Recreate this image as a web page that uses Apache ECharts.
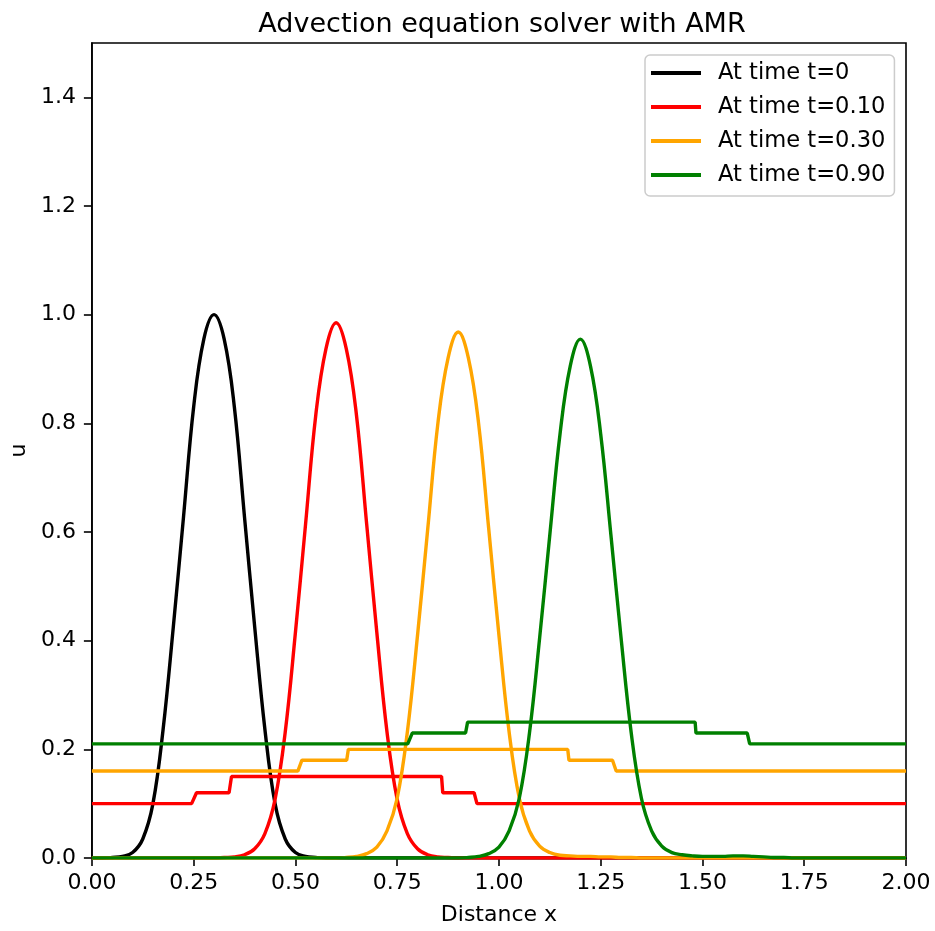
<!DOCTYPE html>
<html>
<head>
<meta charset="utf-8">
<script src="https://cdn.jsdelivr.net/npm/echarts@6/dist/echarts.min.js"></script>
<style>
html,body{margin:0;padding:0;background:#fff;}
#chart{width:935px;height:931px;}
</style>
</head>
<body>
<div id="chart"></div>
<script>
// ---- data ----
const seriesNames = ['At time t=0', 'At time t=0.10', 'At time t=0.30', 'At time t=0.90'];
const xGrid = [
0,0.025,0.05,0.075,0.1,0.125,0.15,0.175,0.2,0.225,
0.25,0.275,0.3,0.325,0.35,0.375,0.4,0.425,0.45,0.475,
0.5,0.525,0.55,0.575,0.6,0.625,0.65,0.675,0.7,0.725,
0.75,0.775,0.8,0.825,0.85,0.875,0.9,0.925,0.95,0.975,
1.0,1.025,1.05,1.075,1.1,1.125,1.15,1.175,1.2,1.225,
1.25,1.275,1.3,1.325,1.35,1.375,1.4,1.425,1.45,1.475,
1.5,1.525,1.55,1.575,1.6,1.625,1.65,1.675,1.7,1.725,
1.75,1.775,1.8,1.825,1.85,1.875,1.9,1.925,1.95,1.975,
2.0];
const uBlack = [
0,0,0.001,0.003,0.01,0.035,0.10,0.237,0.425,0.627,
0.83,0.955,1.0,0.955,0.83,0.627,0.425,0.237,0.10,0.035,
0.01,0.003,0.001,0,0,0,0,0,0,0,
0,0,0,0,0,0,0,0,0,0,
0,0,0,0,0,0,0,0,0,0,
0,0,0,0,0,0,0,0,0,0,
0,0,0,0,0,0,0,0,0,0,
0,0,0,0,0,0,0,0,0,0,
0];
const uRed = [
0,0,0,0,0,0,0,0,0,0,
0,0,0,0.001,0.002,0.006,0.017,0.045,0.108,0.232,
0.415,0.615,0.815,0.937,0.985,0.937,0.815,0.615,0.415,0.232,
0.108,0.045,0.017,0.006,0.002,0.001,0,0,0,0,
0,0,0,0,0,0,0,0,0,0,
0,0,0,0,0,0,0,0,0,0,
0,0,0,0,0,0,0,0,0,0,
0,0,0,0,0,0,0,0,0,0,
0];
const uOrange = [
0,0,0,0,0,0,0,0,0,0,
0,0,0,0,0,0,0,0,0,0,
0,0,0,0,0,0.001,0.003,0.008,0.02,0.05,
0.11,0.232,0.41,0.605,0.80,0.92,0.968,0.92,0.80,0.605,
0.41,0.232,0.11,0.05,0.022,0.01,0.005,0.004,0.003,0.003,
0.002,0.002,0.001,0.001,0,0,0,0,0,0,
0,0,0,0,0,0,0,0,0,0,
0,0,0,0,0,0,0,0,0,0,
0];
const uGreen = [
0,0,0,0,0,0,0,0,0,0,
0,0,0,0,0,0,0,0,0,0,
0,0,0,0,0,0,0,0,0,0,
0,0,0,0,0,0,0,0.001,0.003,0.008,
0.02,0.05,0.11,0.23,0.405,0.595,0.78,0.905,0.955,0.905,
0.78,0.595,0.405,0.23,0.11,0.05,0.022,0.01,0.006,0.004,
0.003,0.003,0.003,0.004,0.004,0.003,0.002,0.001,0.001,0,
0,0,0,0,0,0,0,0,0,0,
0];
// AMR level indicator step lines (vertices)
const stepRedX    = [0, 0.245, 0.257, 0.337, 0.343, 0.859, 0.862, 0.939, 0.946, 2.0];
const stepRedY    = [0.10,0.10,0.12,0.12,0.15,0.15,0.12,0.12,0.10,0.10];
const stepOrangeX = [0, 0.506, 0.516, 0.626, 0.630, 1.169, 1.172, 1.279, 1.288, 2.0];
const stepOrangeY = [0.16,0.16,0.18,0.18,0.20,0.20,0.18,0.18,0.16,0.16];
const stepGreenX  = [0, 0.776, 0.787, 0.918, 0.923, 1.482, 1.484, 1.610, 1.616, 2.0];
const stepGreenY  = [0.21,0.21,0.23,0.23,0.25,0.25,0.23,0.23,0.21,0.21];
const xTicks = [0,0.25,0.5,0.75,1.0,1.25,1.5,1.75,2.0];
const yTicks = [0,0.2,0.4,0.6,0.8,1.0,1.2,1.4];
const colors = ['#000000', '#ff0000', '#ffa500', '#008000'];

// ---- chart ----
const FONT = 'DejaVu Sans';
const FS = 22;
const pair = (xs, ys) => xs.map((x, i) => [x, ys[i]]);
function curve(name, color, data, smooth) {
  return {
    name: name, type: 'line', data: data, showSymbol: false, symbol: 'none',
    smooth: smooth, color: color,
    lineStyle: { color: color, width: 3.4 }, emphasis: { disabled: true },
    animation: false, z: 2
  };
}
const series = [
  curve(seriesNames[0], colors[0], pair(xGrid, uBlack), 0.4),
  curve(seriesNames[1], colors[1], pair(xGrid, uRed), 0.4),
  curve(seriesNames[1], colors[1], pair(stepRedX, stepRedY), false),
  curve(seriesNames[2], colors[2], pair(xGrid, uOrange), 0.4),
  curve(seriesNames[2], colors[2], pair(stepOrangeX, stepOrangeY), false),
  curve(seriesNames[3], colors[3], pair(xGrid, uGreen), 0.4),
  curve(seriesNames[3], colors[3], pair(stepGreenX, stepGreenY), false)
];

const chart = echarts.init(document.getElementById('chart'), null, { renderer: 'canvas' });
chart.setOption({
  backgroundColor: '#ffffff',
  animation: false,
  textStyle: { fontFamily: FONT },
  title: {
    text: 'Advection equation solver with AMR',
    left: 497, top: 6, textAlign: 'center',
    textStyle: { fontFamily: FONT, fontSize: 27, fontWeight: 'normal', color: '#000' }
  },
  legend: {
    data: seriesNames,
    orient: 'vertical',
    left: 645, top: 55,
    padding: [5, 9, 8, 6],
    backgroundColor: 'rgba(255,255,255,0.8)',
    borderColor: '#cccccc', borderWidth: 1.5, borderRadius: 5,
    icon: 'rect', itemWidth: 50, itemHeight: 4, itemGap: 8,
    textStyle: { fontFamily: FONT, fontSize: 22.6, color: '#000', padding: [0, 0, 0, 12], lineHeight: 26 }
  },
  grid: {
    left: 89, right: 29, top: 43, bottom: 71,
    show: true, borderColor: '#000', borderWidth: 1.6, backgroundColor: 'transparent',
    containLabel: false
  },
  xAxis: {
    type: 'value', min: 0, max: 2, interval: 0.25,
    name: 'Distance x', nameLocation: 'middle', nameGap: 46,
    nameTextStyle: { fontFamily: FONT, fontSize: FS, color: '#000' },
    axisLine: { show: true, onZero: false, lineStyle: { color: '#000', width: 1.6 } },
    axisTick: { show: true, inside: false, length: 8, lineStyle: { color: '#000', width: 1.6 }, customValues: xTicks },
    axisLabel: { margin: 14, fontFamily: FONT, fontSize: FS, color: '#000', customValues: xTicks,
      formatter: v => v.toFixed(2) },
    splitLine: { show: false }
  },
  yAxis: {
    type: 'value', min: 0, max: 1.5,
    name: 'u', nameLocation: 'middle', nameGap: 58,
    nameTextStyle: { fontFamily: FONT, fontSize: FS, color: '#000' },
    axisLine: { show: true, onZero: false, lineStyle: { color: '#000', width: 1.6 } },
    axisTick: { show: true, inside: false, length: 8, lineStyle: { color: '#000', width: 1.6 }, customValues: yTicks },
    axisLabel: { margin: 16, fontFamily: FONT, fontSize: FS, color: '#000', customValues: yTicks,
      formatter: v => v.toFixed(1) },
    splitLine: { show: false }
  },
  series: series
});
</script>
</body>
</html>
